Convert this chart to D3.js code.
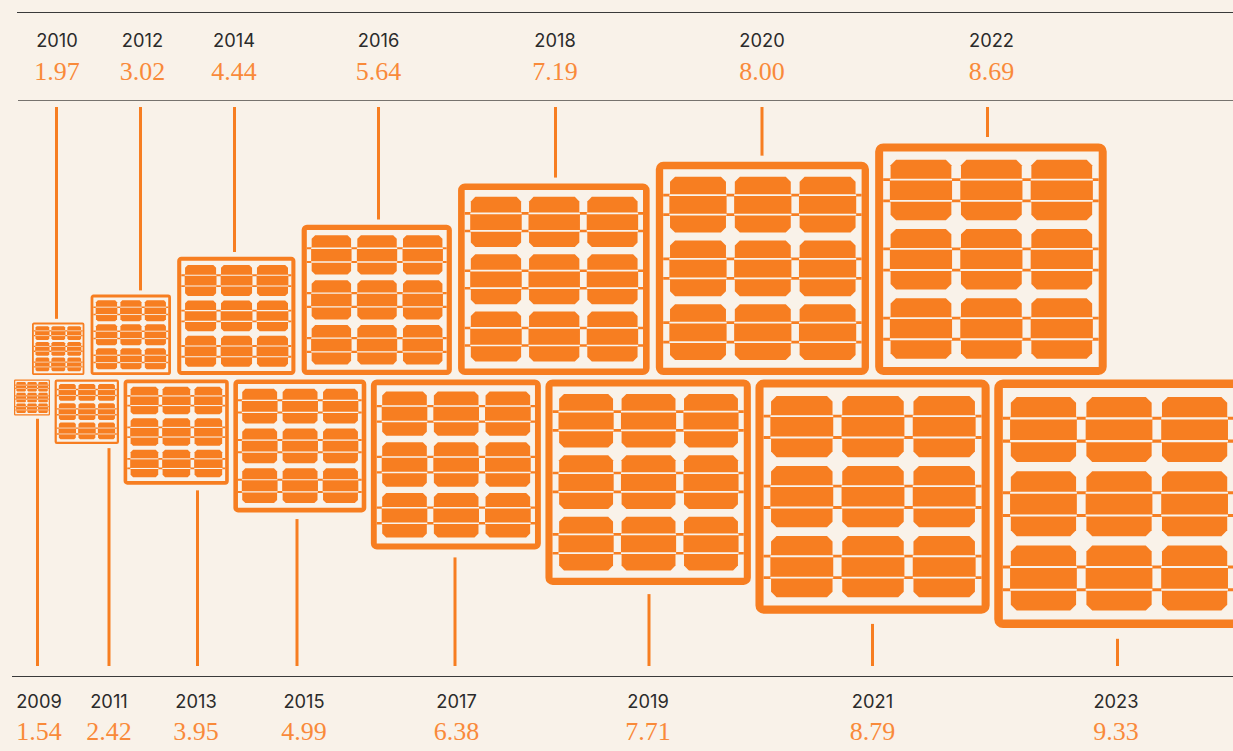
<!DOCTYPE html>
<html>
<head>
<meta charset="utf-8">
<script src="https://cdn.jsdelivr.net/npm/d3@7"></script>
<style>
	html, body { margin: 0; padding: 0; background: #f9f2e9; overflow: hidden; }
	svg { display: block; }
</style>
</head>
<body>
<div id="chart"></div>
<script>
// values, split in the two rows of panels
var topYears = ["2010", "2012", "2014", "2016", "2018", "2020", "2022"];
var topValues = [1.97, 3.02, 4.44, 5.64, 7.19, 8.00, 8.69];
var bottomYears = ["2009", "2011", "2013", "2015", "2017", "2019", "2021", "2023"];
var bottomValues = [1.54, 2.42, 3.95, 4.99, 6.38, 7.71, 8.79, 9.33];

var width = 1233;
var height = 751;
var orange = "#f77e21";
var cream = "#f9f2e9";
var dark = "#2b2b2b";

// panel side follows the value, the smallest panel is drawn a bit under scale in the original
var size = d3.scaleLinear().domain([0, 1.54, 1.97, 9.33]).range([0, 36, 52.4, 248.6]);

// label slots do not sit on the panel centres, so they get their own scales
var topSlot = d3.scaleOrdinal().domain(topYears).range([56.5, 140.5, 234.5, 378.5, 555.5, 762, 987.5]);
var bottomSlot = d3.scaleOrdinal().domain(bottomYears).range([37.5, 109, 197.5, 297, 455, 649, 872.5, 1117.5]);
var topLabel = d3.scaleOrdinal().domain(topYears).range([57, 142.5, 234, 378.5, 555, 762, 991.5]);
var bottomLabel = d3.scaleOrdinal().domain(bottomYears).range([39, 109, 196, 304, 456.5, 648, 872.5, 1116]);

var svg = d3.select("#chart").append("svg")
	.attr("width", width)
	.attr("height", height)
	.style("background", cream);

// turn a row of values into panels placed side by side
function layoutRow(years, values, startX, gap) {
	var x = startX;
	return years.map(function(year, i) {
		var s = size(values[i]);
		var panel = { year: year, value: values[i], x: x, s: s };
		x += s + gap;
		return panel;
	});
}

// cell outline with the cut corners
function cellPath(x, y, w, h) {
	var c = w * 0.09;
	return d3.line()([
		[x + c, y], [x + w - c, y], [x + w, y + c], [x + w, y + h - c],
		[x + w - c, y + h], [x + c, y + h], [x, y + h - c], [x, y + c]
	]) + "Z";
}

function drawPanel(g, s) {
	var frame = s * 0.0345;
	var busWidth = 0.8 + s * 0.009;
	var gapWidth = 0.3 + s * 0.007;
	var cellW = s * 0.2625;
	var cellH = s * 0.2615;
	var idx = d3.range(3);

	g.append("rect")
		.attr("x", frame / 2)
		.attr("y", frame / 2)
		.attr("width", s - frame)
		.attr("height", s - frame)
		.attr("rx", s * 0.018)
		.attr("fill", "none")
		.attr("stroke", orange)
		.attr("stroke-width", frame);

	idx.forEach(function(row) {
		var y = s * 0.07 + row * s * 0.299;
		var lines = [y + cellH * 0.33, y + cellH * 0.68];

		// bus lines run frame to frame, behind the cells
		lines.forEach(function(ly) {
			g.append("line")
				.attr("x1", frame)
				.attr("x2", s - frame)
				.attr("y1", ly)
				.attr("y2", ly)
				.attr("stroke", orange)
				.attr("stroke-width", busWidth);
		});

		idx.forEach(function(col) {
			var x = s * 0.0666 + col * s * 0.304;
			g.append("path")
				.attr("d", cellPath(x, y, cellW, cellH))
				.attr("fill", orange);
			// the middle strip sticks out slightly
			g.append("rect")
				.attr("x", x - s * 0.003)
				.attr("y", lines[0])
				.attr("width", cellW + s * 0.006)
				.attr("height", lines[1] - lines[0])
				.attr("fill", orange);
			lines.forEach(function(ly) {
				g.append("line")
					.attr("x1", x - s * 0.003)
					.attr("x2", x + cellW + s * 0.003)
					.attr("y1", ly)
					.attr("y2", ly)
					.attr("stroke", cream)
					.attr("stroke-width", gapWidth);
			});
		});
	});
}

function drawRow(panels, opts) {
	panels.forEach(function(p) {
		var g = svg.append("g")
			.attr("transform", "translate(" + p.x + "," + opts.panelY(p.s) + ")");
		drawPanel(g, p.s);

		svg.append("line")
			.attr("x1", opts.slot(p.year))
			.attr("x2", opts.slot(p.year))
			.attr("y1", opts.leaderStart)
			.attr("y2", opts.leaderEnd(p.s))
			.attr("stroke", orange)
			.attr("stroke-width", 3);

		svg.append("text")
			.attr("x", opts.label(p.year))
			.attr("y", opts.yearY)
			.attr("text-anchor", "middle")
			.style("font-family", "Inter, sans-serif")
			.style("font-size", "18.3px")
			.style("fill", dark)
			.text(p.year);

		svg.append("text")
			.attr("x", opts.label(p.year))
			.attr("y", opts.valueY)
			.attr("text-anchor", "middle")
			.style("font-family", "'Liberation Serif', serif")
			.style("font-size", "26px")
			.style("fill", "#f98a3a")
			.text(d3.format(".2f")(p.value));
	});
}

// rules
[[17, 12.5, "#3a3a3a"], [18, 100.5, "#77736e"], [12, 676.5, "#3a3a3a"]].forEach(function(r) {
	svg.append("line")
		.attr("x1", r[0])
		.attr("x2", width)
		.attr("y1", r[1])
		.attr("y2", r[1])
		.attr("stroke", r[2])
		.attr("stroke-width", 1);
});

drawRow(layoutRow(bottomYears, bottomValues, 14, 4.6), {
	panelY: function() { return 379.5; },
	slot: bottomSlot,
	label: bottomLabel,
	leaderStart: 666,
	leaderEnd: function(s) { return 379.5 + s + 2 + s * 0.035; },
	yearY: 708,
	valueY: 740
});

drawRow(layoutRow(topYears, topValues, 32, 6.2), {
	panelY: function(s) { return 375 - s; },
	slot: topSlot,
	label: topLabel,
	leaderStart: 107,
	leaderEnd: function(s) { return 375 - s - 3 - s * 0.015; },
	yearY: 47,
	valueY: 80
});
</script>
</body>
</html>
